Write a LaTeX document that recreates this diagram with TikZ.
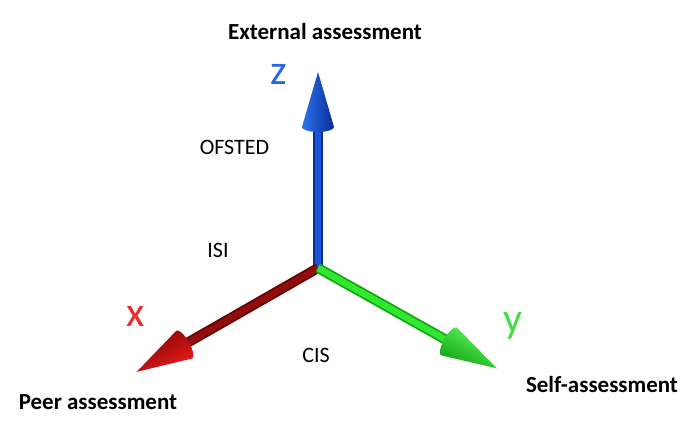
\documentclass[tikz,border=0pt]{standalone}
\usepackage{fontspec}
\setmainfont{Carlito}
\definecolor{zmain}{RGB}{25,85,215}
\definecolor{zdark}{RGB}{10,45,150}
\definecolor{zlight}{RGB}{45,115,240}
\definecolor{xmain}{RGB}{145,12,12}
\definecolor{xsdark}{RGB}{100,0,0}
\definecolor{xcone}{RGB}{205,10,10}
\definecolor{xlight}{RGB}{235,30,30}
\definecolor{xdark}{RGB}{130,0,0}
\definecolor{ymain}{RGB}{50,230,50}
\definecolor{ysdark}{RGB}{10,170,10}
\definecolor{ycone}{RGB}{45,230,45}
\definecolor{ylight}{RGB}{100,255,100}
\definecolor{ydark}{RGB}{15,160,15}
\definecolor{zlab}{RGB}{40,100,230}
\definecolor{xlab}{RGB}{240,40,40}
\definecolor{ylab}{RGB}{70,220,70}
\newcommand{\myaxisarrow}[7]{%
  \begin{scope}[shift={(O)},rotate=#1]
    \draw[line width=10pt,#3] (0,0) -- (#2-52,0);
    \draw[line width=6.5pt,#4] (0,0) -- (#2-52,0);
    \shade[top color=#5,middle color=#7,bottom color=#6,shading angle=#1]
      (#2,0) -- (#2-55,16) arc[start angle=90,end angle=270,x radius=5,y radius=16] -- cycle;
  \end{scope}}
\begin{document}
\begin{tikzpicture}[x=1pt,y=1pt,
  lbl/.style={anchor=base,inner sep=0pt,font=\fontsize{22}{26}\selectfont},
  ttl/.style={anchor=base,inner sep=0pt,font=\fontsize{23}{27}\selectfont\bfseries},
  axl/.style={anchor=base,inner sep=0pt,font=\fontsize{42}{48}\selectfont}]
\useasboundingbox[fill=white] (0,0) rectangle (691,435);
\coordinate (O) at (318,167);
% axes
\myaxisarrow{90}{196}{zdark}{zmain}{zlight}{zdark}{zmain}
\myaxisarrow{209.8}{209}{xsdark}{xmain}{xlight}{xdark}{xcone}
\myaxisarrow{-29.3}{205}{ysdark}{ymain}{ylight}{ydark}{ycone}
% axis letters
\node[axl,text=zlab] (zl) at (279,350) {z};
\node[axl,text=xlab] (xl) at (135.5,108) {x};
\node[axl,text=ylab] (yl) at (513,102) {y};
% labels
\node[ttl] (ext) at (325,395) {External assessment};
\node[ttl] (peer) at (98,25) {Peer assessment};
\node[ttl] (self) at (602,42) {Self-assessment};
\node[lbl] (ofs) at (234.5,280) {OFSTED};
\node[lbl] (isi) at (218,177) {ISI};
\node[lbl] (cis) at (316,72) {CIS};
\end{tikzpicture}
\end{document}
